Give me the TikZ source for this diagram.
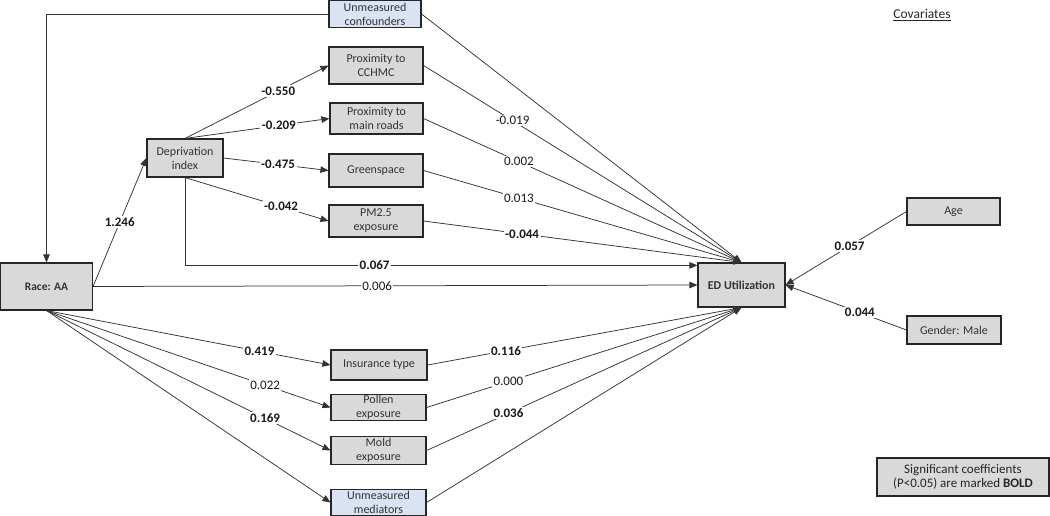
\documentclass[tikz,border=0pt]{standalone}
\usepackage{fontspec}
\setmainfont{Carlito}
\usetikzlibrary{arrows.meta,calc}
\definecolor{boxgray}{HTML}{D9D9D9}
\definecolor{boxblue}{HTML}{DAE3F3}
\definecolor{edgegray}{HTML}{333333}
\definecolor{txtgray}{HTML}{333333}
\begin{document}
\begin{tikzpicture}[x=1pt,y=-1pt,
 box/.style={draw=black!85, line width=1.1pt, fill=boxgray, align=center, inner sep=0pt, text=txtgray, font=\fontsize{12}{14}\selectfont},
 bluebox/.style={box, fill=boxblue},
 conn/.style={draw=edgegray, line width=0.75pt, -{Triangle[length=8pt,width=6.5pt]}},
 lbl/.style={fill=white, inner sep=1.5pt, text=black!90, font=\fontsize{13}{15}\selectfont},
 blbl/.style={lbl, font=\fontsize{13}{15}\selectfont\bfseries}]
\useasboundingbox (0,0) rectangle (1050,516);

% nodes
\node[bluebox, minimum width=92pt, minimum height=27pt] (conf) at (375,14) {Unmeasured\\confounders};
\node[box, minimum width=94pt, minimum height=37pt] (cchmc) at (376,65.5) {Proximity to\\CCHMC};
\node[box, minimum width=93pt, minimum height=31pt] (roads) at (376.5,118.5) {Proximity to\\main roads};
\node[box, minimum width=94pt, minimum height=33pt] (green) at (376,170.5) {Greenspace};
\node[box, minimum width=94pt, minimum height=32pt] (pm) at (376,221) {PM2.5\\exposure};
\node[box, minimum width=76pt, minimum height=38pt] (dep) at (185,158) {Deprivation\\index};
\node[box, minimum width=92pt, minimum height=47pt, font=\fontsize{11.5}{13}\selectfont\bfseries] (race) at (46.5,286.5) {Race: AA};
\node[box, minimum width=87pt, minimum height=44pt, font=\fontsize{12}{14}\selectfont\bfseries] (ed) at (741.5,285) {ED Utilization};
\node[box, minimum width=93pt, minimum height=27pt] (age) at (953.5,211.5) {Age};
\node[box, minimum width=94pt, minimum height=28pt] (gender) at (954,330) {Gender: Male};
\node[box, minimum width=96pt, minimum height=30pt] (ins) at (379,365) {Insurance type};
\node[box, minimum width=95pt, minimum height=26pt] (pollen) at (378.5,407.5) {Pollen\\exposure};
\node[box, minimum width=95pt, minimum height=28pt] (mold) at (378.5,450.5) {Mold\\exposure};
\node[bluebox, minimum width=95pt, minimum height=26pt] (med) at (378.5,502.5) {Unmeasured\\mediators};
\node[box, minimum width=172pt, minimum height=38pt, font=\fontsize{13}{14.5}\selectfont, text=black!85] (legend) at (963,477) {Significant coefficients\\(P<0.05) are marked \textbf{BOLD}};
\node[font=\fontsize{13.5}{15}\selectfont, text=black!85, inner sep=0pt] (cov) at (922,15) {\underline{Covariates}};

% connectors
\draw[conn] (conf.west) -| (race.north);
\draw[conn] (conf.east) -- (ed.north);
\draw[conn] (race.east) -- node[blbl, pos=0.5] {1.246} (dep.west);
\draw[conn] (dep.north) -- node[blbl, pos=0.65] {-0.550} (cchmc.west);
\draw[conn] (dep.north) -- node[blbl, pos=0.65] {-0.209} (roads.west);
\draw[conn] (dep.east) -- node[blbl, pos=0.52] {-0.475} (green.west);
\draw[conn] (dep.south) -- node[blbl, pos=0.67] {-0.042} (pm.west);
\draw[conn] (dep.south) |- node[blbl, pos=0.685] {0.067} (ed.156);
\draw[conn] (race.east) -- node[lbl, pos=0.47] {0.006} (ed.west);
\draw[conn] (cchmc.east) -- node[lbl, pos=0.28] {-0.019} (ed.north);
\draw[conn] (roads.east) -- node[lbl, pos=0.3] {0.002} (ed.north);
\draw[conn] (green.east) -- node[lbl, pos=0.3] {0.013} (ed.north);
\draw[conn] (pm.east) -- node[blbl, pos=0.31] {-0.044} (ed.north);
\draw[conn] (race.south) -- node[blbl, pos=0.75] {0.419} (ins.west);
\draw[conn] (race.south) -- node[lbl, pos=0.77] {0.022} (pollen.west);
\draw[conn] (race.south) -- node[blbl, pos=0.77] {0.169} (mold.west);
\draw[conn] (race.south) -- (med.west);
\draw[conn] (ins.east) -- node[blbl, pos=0.25] {0.116} (ed.south);
\draw[conn] (pollen.east) -- node[lbl, pos=0.26] {0.000} (ed.south);
\draw[conn] (mold.east) -- node[blbl, pos=0.26] {0.036} (ed.south);
\draw[conn] (med.east) -- (ed.south);
\draw[conn] (age.west) -- node[blbl, pos=0.47] {0.057} (ed.east);
\draw[conn] (gender.west) -- node[blbl, pos=0.385] {0.044} (ed.east);
\end{tikzpicture}
\end{document}
